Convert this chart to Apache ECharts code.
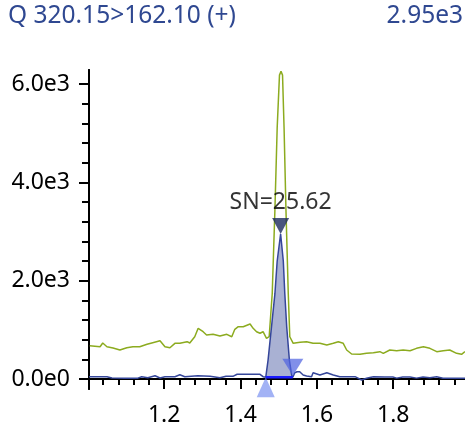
<!DOCTYPE html>
<html>
<head>
<meta charset="utf-8">
<script src="https://cdn.jsdelivr.net/npm/echarts@6/dist/echarts.min.js"></script>
<style>
  html, body { margin: 0; padding: 0; background: #fff; }
  #chart { width: 465px; height: 430px; }
</style>
</head>
<body>
<div id="chart"></div>
<script>
// ---- data ----
const traceTitle = 'Q 320.15>162.10 (+)';
const traceMax = '2.95e3';
const snText = 'SN=25.62';

// quant trace (blue)
const blueRt = [1.003, 1.032, 1.050, 1.063, 1.097, 1.131, 1.141, 1.157, 1.176, 1.189,
  1.202, 1.228, 1.241, 1.254, 1.288, 1.320, 1.346, 1.362, 1.380, 1.391,
  1.425, 1.451, 1.459, 1.466, 1.472, 1.481, 1.490, 1.496, 1.505, 1.512,
  1.516, 1.521, 1.528, 1.534, 1.537, 1.542, 1.548, 1.555, 1.564, 1.573,
  1.586, 1.590, 1.608, 1.626, 1.643, 1.660, 1.700, 1.717, 1.730, 1.748,
  1.778, 1.799, 1.809, 1.825, 1.844, 1.861, 1.878, 1.896, 1.914, 1.930,
  1.962, 1.988];
const blueVal = [47, 47, 47, 20, 15, 18, 47, 25, 67, 20,
  47, 47, 87, 47, 67, 55, 25, 55, 55, 96,
  96, 96, 47, 35, 380, 1055, 1730, 2400, 2950, 2400,
  1730, 1055, 380, 80, 35, 128, 148, 148, 81, 61,
  47, 128, 81, 128, 81, 47, 47, -20, 14, 47,
  40, 40, 18, 40, 40, 18, 40, 25, 47, 15,
  15, 15];

// qualifier trace (green)
const greenRt = [1.005, 1.032, 1.039, 1.050, 1.066, 1.084, 1.102, 1.118, 1.136, 1.155,
  1.170, 1.189, 1.202, 1.215, 1.228, 1.241, 1.260, 1.267, 1.280, 1.289,
  1.302, 1.311, 1.328, 1.346, 1.364, 1.377, 1.385, 1.394, 1.407, 1.425,
  1.433, 1.442, 1.451, 1.459, 1.468, 1.475, 1.483, 1.490, 1.496, 1.502,
  1.506, 1.510, 1.514, 1.519, 1.525, 1.529, 1.538, 1.556, 1.573, 1.590,
  1.608, 1.626, 1.643, 1.656, 1.669, 1.678, 1.691, 1.713, 1.730, 1.748,
  1.765, 1.774, 1.791, 1.809, 1.826, 1.844, 1.861, 1.879, 1.896, 1.914,
  1.931, 1.948, 1.966, 1.979, 1.988];
const greenVal = [677, 657, 732, 657, 631, 590, 637, 657, 657, 706,
  738, 779, 657, 637, 726, 726, 759, 732, 860, 1031,
  962, 895, 909, 875, 909, 860, 1011, 1064, 1064, 1119,
  1031, 962, 930, 962, 828, 860, 1740, 3430, 5115, 6180,
  6260, 6180, 5115, 3430, 1740, 860, 726, 747, 759, 726,
  726, 692, 726, 759, 726, 590, 509, 502, 522, 535,
  556, 522, 590, 576, 590, 576, 624, 657, 624, 556,
  576, 590, 522, 502, 556];

// integrated peak: start, apex, end
const peakStart = [1.466, 35];
const peakApex = [1.505, 2950];
const peakEnd = [1.537, 35];

const yLabelValues = [0, 2000, 4000, 6000];
const yLabelTexts = ['0.0e0', '2.0e3', '4.0e3', '6.0e3'];
const xLabelValues = [1.2, 1.4, 1.6, 1.8];

// ---- helpers ----
const pairs = (xs, ys) => xs.map((x, i) => [x, ys[i]]);
const blueData = pairs(blueRt, blueVal);
const greenData = pairs(greenRt, greenVal);
const peakData = blueData.filter(p => p[0] >= peakStart[0] && p[0] <= peakEnd[0]);

const yMinorTicks = [];
for (let v = 0; v <= 6000; v += 400) if (v % 2000) yMinorTicks.push(v);
const xMinorTicks = [];
for (let k = 26; k <= 49; k++) if (k % 5) xMinorTicks.push(+(k * 0.04).toFixed(2));

const FONT = '"Noto Sans", sans-serif';
const BLUE = '#35469a';
const GREEN = '#8cab1f';
const X_MIN = 1.003, X_MAX = 1.988;
const Y_MIN = -203, Y_MAX = 6284;

const axisLineStyle = { show: true, lineStyle: { color: '#000', width: 2 } };

const chart = echarts.init(document.getElementById('chart'));

chart.setOption({
  animation: false,
  backgroundColor: '#fff',
  textStyle: { fontFamily: FONT },
  grid: { left: 89, right: 0, top: 70, bottom: 41, containLabel: false },
  graphic: [
    { type: 'text', left: 8, top: 4,
      style: { text: traceTitle, fontSize: 24.5, fontFamily: FONT, fill: '#2f4891' } },
    { type: 'text', right: 2, top: 4,
      style: { text: traceMax, fontSize: 24.5, fontFamily: FONT, fill: '#2f4891' } }
  ],
  xAxis: [
    {
      type: 'value', min: X_MIN, max: X_MAX,
      axisLine: axisLineStyle,
      axisTick: { show: true, customValues: xLabelValues, length: 10, lineStyle: { color: '#000', width: 2 } },
      axisLabel: { customValues: xLabelValues, fontSize: 23, color: '#000', margin: 15,
        formatter: v => v.toFixed(1) },
      splitLine: { show: false }
    },
    {
      type: 'value', min: X_MIN, max: X_MAX, position: 'bottom',
      axisLine: axisLineStyle,
      axisTick: { show: true, customValues: xMinorTicks, length: 6, lineStyle: { color: '#000', width: 2 } },
      axisLabel: { show: false },
      splitLine: { show: false }
    }
  ],
  yAxis: [
    {
      type: 'value', min: Y_MIN, max: Y_MAX,
      axisLine: axisLineStyle,
      axisTick: { show: true, customValues: yLabelValues, length: 10, lineStyle: { color: '#000', width: 2 } },
      axisLabel: { customValues: yLabelValues, fontSize: 23, color: '#000', margin: 19,
        formatter: v => yLabelTexts[yLabelValues.indexOf(v)] },
      splitLine: { show: false }
    },
    {
      type: 'value', min: Y_MIN, max: Y_MAX, position: 'left',
      axisLine: axisLineStyle,
      axisTick: { show: true, customValues: yMinorTicks, length: 7, lineStyle: { color: '#000', width: 2 } },
      axisLabel: { show: false },
      splitLine: { show: false }
    }
  ],
  series: [
    {
      name: 'area', type: 'line', data: peakData, symbol: 'none',
      lineStyle: { width: 0 },
      areaStyle: { color: '#a9b1d3', opacity: 1, origin: peakStart[1] },
      z: 1
    },
    {
      name: 'qualifier', type: 'line', data: greenData, symbol: 'none',
      lineStyle: { color: GREEN, width: 1.5 }, z: 2
    },
    {
      name: 'quant', type: 'line', data: blueData, symbol: 'none',
      lineStyle: { color: BLUE, width: 1.5 }, z: 3
    },
    {
      name: 'baseline', type: 'line', data: [peakStart, peakEnd], symbol: 'none',
      lineStyle: { color: '#1a1aff', width: 2.5 }, z: 4
    },
    {
      name: 'start', type: 'scatter', data: [peakStart], symbol: 'triangle',
      symbolSize: [18, 20], symbolOffset: [0, 10],
      itemStyle: { color: 'rgba(110,135,240,0.8)' }, z: 6
    },
    {
      name: 'end', type: 'scatter', data: [peakEnd], symbol: 'triangle',
      symbolSize: [21, 17], symbolRotate: 180, symbolOffset: [0, -10],
      itemStyle: { color: 'rgba(80,100,225,0.9)' }, z: 6
    },
    {
      name: 'apex', type: 'scatter', data: [peakApex], symbol: 'triangle',
      symbolSize: [17, 16], symbolRotate: 180, symbolOffset: [0, -8],
      itemStyle: { color: '#1b2a5e' }, z: 6,
      label: { show: true, position: 'top', distance: 4, formatter: snText,
        fontSize: 23, color: '#000', fontFamily: FONT }
    }
  ]
});
</script>
</body>
</html>
